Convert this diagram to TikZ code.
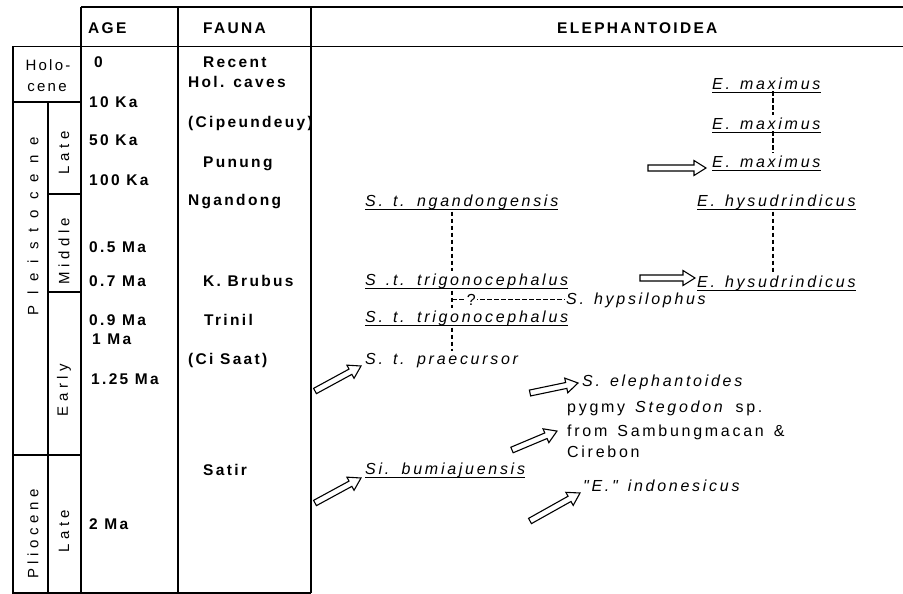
\documentclass[tikz,border=0pt]{standalone}
\usepackage{fontspec}
\setmainfont{Liberation Sans}
\newfontfamily\tabfont[LetterSpace=15, WordSpace=1.7]{Liberation Sans}
\newfontfamily\agefont[LetterSpace=15, WordSpace=2.5]{Liberation Sans}
\newfontfamily\spfont[LetterSpace=17, WordSpace=1.4]{Liberation Sans}
\newfontfamily\erafont[LetterSpace=30]{Liberation Sans}
\newfontfamily\holofont[LetterSpace=15]{Liberation Sans}
\newfontfamily\widefont[LetterSpace=67]{Liberation Sans}
\usetikzlibrary{calc}

\tikzset{
  frameline/.style={line width=1.4pt},
  tab/.style={font=\tabfont\bfseries\fontsize{15.5}{18}\selectfont, anchor=base west, inner sep=0pt},
  age/.style={tab, font=\agefont\bfseries\fontsize{15.5}{18}\selectfont},
  spbase/.style={anchor=base west, inner sep=0pt},
  sp/.style={spbase, font=\spfont\itshape\fontsize{16}{18}\selectfont},
  note/.style={spbase, font=\spfont\fontsize{16}{18}\selectfont},
  era/.style={font=\erafont\fontsize{15}{17}\selectfont, inner sep=0pt},
  vert/.style={era, rotate=90},
  uline/.style={line width=0.9pt},
  dashline/.style={line width=1.2pt, dash pattern=on 4.5pt off 2.5pt, shorten <=2pt, shorten >=2pt},
  arrowline/.style={line width=1.1pt, fill=white, line join=miter},
}

% open (hollow) arrow from tail #1 to tip #2
\newcommand{\openarrow}[2]{%
  \coordinate (oa) at ($(#2)!12pt!(#1)$);
  \draw[arrowline] ($(#1)!3pt!90:(#2)$) -- ($(oa)!3pt!90:(#2)$) -- ($(oa)!7.5pt!90:(#2)$) -- (#2)
    -- ($(oa)!7.5pt!-90:(#2)$) -- ($(oa)!3pt!-90:(#2)$) -- ($(#1)!3pt!-90:(#2)$) -- cycle;
}

\begin{document}
\begin{tikzpicture}[x=1pt,y=-1pt]
  \useasboundingbox (0,0) rectangle (903,594);

  % table
  \draw[frameline] (81,7) -- (903,7);
  \draw[frameline] (13,46.5) -- (903,46.5);
  \draw[frameline] (13,46.5) -- (13,593) -- (311,593);
  \draw[frameline] (81,7) -- (81,593);
  \draw[frameline] (178,7) -- (178,593);
  \draw[frameline] (311,7) -- (311,593);
  \draw[frameline] (48,102) -- (48,593);
  \foreach \a/\b/\y in {13/81/102, 48/81/194, 48/81/292, 13/81/455}
    \draw[frameline] (\a,\y) -- (\b,\y);

  % header
  \node[tab] (hAge) at (88,34) {AGE};
  \node[tab] (hFauna) at (203,34) {FAUNA};
  \node[tab] (hEleph) at (557,34) {ELEPHANTOIDEA};

  % epochs
  \node[era, font=\holofont\fontsize{15}{17}\selectfont, anchor=base] (holo) at (48,71) {Holo-};
  \node[era, font=\holofont\fontsize{15}{17}\selectfont, anchor=base] (cene) at (47,92) {cene};
  \node[vert, font=\widefont\fontsize{15}{17}\selectfont] (pleist) at (33,226) {Pleistocene};
  \node[vert] (lateP) at (64,153) {Late};
  \node[vert] (middle) at (64,251) {Middle};
  \node[vert] (early) at (64,390) {Early};
  \node[vert] (plio) at (33,534) {Pliocene};
  \node[vert] (lateL) at (64,531) {Late};

  % ages
  \node[age] (age0) at (94,68) {0};
  \node[age] (age10) at (89,107) {10 Ka};
  \node[age] (age50) at (89,146) {50 Ka};
  \node[age] (age100) at (89,185) {100 Ka};
  \node[age] (age05) at (89,252) {0.5 Ma};
  \node[age] (age07) at (89,286) {0.7 Ma};
  \node[age] (age09) at (89,325) {0.9 Ma};
  \node[age] (age1) at (92,344) {1 Ma};
  \node[age] (age125) at (91,384) {1.25 Ma};
  \node[age] (age2) at (89,529) {2 Ma};

  % faunas
  \node[tab] (fRec) at (203,68) {Recent};
  \node[tab] (fHol) at (188,88) {Hol. caves};
  \node[tab] (fCip) at (188,128) {(Cipeundeuy)};
  \node[tab] (fPun) at (203,167) {Punung};
  \node[tab] (fNga) at (188,205) {Ngandong};
  \node[tab] (fKbr) at (203,286) {K. Brubus};
  \node[tab] (fTri) at (204,325) {Trinil};
  \node[tab] (fCis) at (188,364) {(Ci Saat)};
  \node[tab] (fSat) at (203,475) {Satir};

  % Stegodon line
  \node[sp] (sNg) at (365,206) {S. t. ngandongensis};
  \node[sp] (sTa) at (365,285) {S .t. trigonocephalus};
  \node[sp] (sTb) at (365,322) {S. t. trigonocephalus};
  \node[sp] (sPr) at (365,364) {S. t. praecursor};
  \node[sp] (sHy) at (566,304) {S. hypsilophus};
  \node[sp] (sBu) at (365,474) {Si. bumiajuensis};
  \node[sp] (sEl) at (582,386) {S. elephantoides};
  \node[note, anchor=north west, align=left] (pyg) at (567,400.5)
    {pygmy \textit{Stegodon} sp.\\[6pt]from Sambungmacan \&\\[3pt]Cirebon};
  \node[sp] (sIn) at (583,491) {"E." indonesicus};

  % Elephas line
  \node[sp] (eM1) at (712,89) {E. maximus};
  \node[sp] (eM2) at (712,129) {E. maximus};
  \node[sp] (eM3) at (712,167) {E. maximus};
  \node[sp] (eH1) at (697,206) {E. hysudrindicus};
  \node[sp] (eH2) at (697,287) {E. hysudrindicus};

  \foreach \n in {sNg, sTa, sTb, sBu, eM1, eM2, eM3, eH1, eH2}
    \draw[uline] ([yshift=-3pt]\n.base west) -- ([yshift=-3pt]\n.base east);

  % dashed links
  \coordinate (lt) at (452,0);
  \coordinate (rt) at (773,0);
  \draw[dashline] (lt |- sNg.south) -- (lt |- sTa.north);
  \draw[dashline] (lt |- sTa.south) -- (lt |- sTb.north);
  \draw[dashline] (lt |- sTb.south) -- (lt |- sPr.north);
  \draw[dashline, shorten <=0pt, shorten >=1pt] (lt |- sHy.west) -- node[pos=0.17, fill=white, inner sep=1pt, font=\fontsize{16}{18}\selectfont] (qm) {?} (sHy.west);
  \draw[dashline] (rt |- eM1.south) -- (rt |- eM2.north);
  \draw[dashline] (rt |- eM2.south) -- (rt |- eM3.north);
  \draw[dashline] (rt |- eH1.south) -- (rt |- eH2.north);

  % arrows
  \coordinate (aPr) at (315,391);
  \coordinate (aBu) at (315,503);
  \coordinate (aEl) at (530,393);
  \coordinate (aPy) at (512,450);
  \coordinate (aIn) at (530,521);
  \coordinate (aM3) at (648,168);
  \coordinate (aH2) at (640,278);
  \coordinate (tPr) at ([xshift=-4pt,yshift=-2pt]sPr.base west);
  \coordinate (tBu) at ([xshift=-4pt,yshift=-4pt]sBu.base west);
  \coordinate (tEl) at ([xshift=-4pt,yshift=3pt]sEl.base west);
  \coordinate (tPy) at ([xshift=-10pt,yshift=-2pt]pyg.west);
  \coordinate (tIn) at ([xshift=-3pt,yshift=-2pt]sIn.base west);
  \coordinate (tM3) at ([xshift=-6pt,yshift=-1pt]eM3.base west);
  \coordinate (tH2) at ([xshift=-2pt,yshift=9pt]eH2.base west);
  \foreach \a/\t in {aPr/tPr, aBu/tBu, aEl/tEl, aPy/tPy, aIn/tIn, aM3/tM3, aH2/tH2}
    {\openarrow{\a}{\t}}
\end{tikzpicture}
\end{document}
